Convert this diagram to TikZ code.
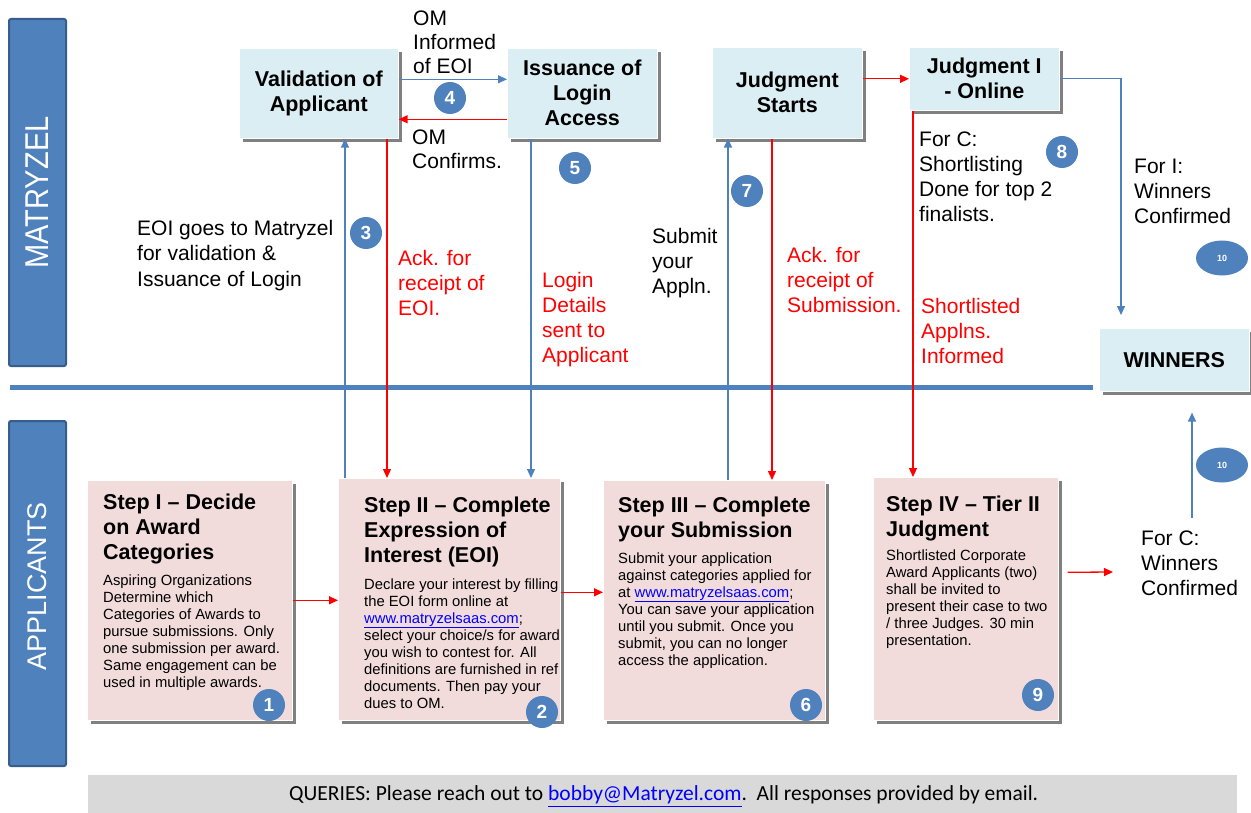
\documentclass[tikz,border=0pt]{standalone}
\usepackage{fontspec}
\setmainfont{Liberation Sans}
\newfontfamily\calibrifont{Carlito}
\usetikzlibrary{arrows.meta,shadows,shapes.geometric,calc}
\definecolor{barblue}{HTML}{4F81BD}
\definecolor{bardark}{HTML}{385D8A}
\definecolor{boxblue}{HTML}{DBEEF4}
\definecolor{boxpink}{HTML}{F2DCDB}
\definecolor{linkblue}{HTML}{0000FF}
\definecolor{arrred}{HTML}{FF0000}
\definecolor{footgray}{HTML}{D9D9D9}
\newcommand\weblink[1]{\textcolor{linkblue}{\underline{#1}}}
\begin{document}
\begin{tikzpicture}[x=1pt,y=-1pt,
  lanebar/.style={draw=bardark, line width=2pt, fill=barblue, rounded corners=2pt, anchor=north west, inner sep=0pt},
  shadowed/.style={drop shadow={shadow xshift=4pt, shadow yshift=-4pt, fill=black!50, opacity=1}},
  topbox/.style={shadowed, draw=white, line width=0.6pt, fill=boxblue, anchor=north west, inner sep=0pt, align=center, font=\bfseries\fontsize{21.5}{25}\selectfont},
  stepbox/.style={shadowed, draw=white, line width=0.6pt, fill=boxpink, anchor=north west, inner sep=0pt},
  steptitle/.style={anchor=north west, inner sep=0pt, align=left, font=\bfseries\fontsize{21.5}{25}\selectfont},
  stepbody/.style={anchor=north west, inner sep=0pt, align=left, font=\fontsize{14.8}{17}\selectfont},
  lbl/.style={anchor=north west, inner sep=0pt, align=left, font=\fontsize{21}{25}\selectfont},
  redlbl/.style={lbl, text=arrred},
  badge/.style={circle, fill=barblue, text=white, inner sep=0pt, minimum size=32pt, font=\bfseries\fontsize{19}{19}\selectfont},
  badgeoval/.style={ellipse, fill=barblue, text=white, inner sep=0pt, minimum width=52pt, minimum height=35pt, font=\bfseries\fontsize{9}{9}\selectfont},
  bluearr/.style={draw=barblue, line width=1.3pt, -{Triangle[length=9pt,width=8pt]}},
  redarr/.style={draw=arrred, line width=1.3pt, -{Triangle[length=9pt,width=8pt]}},
]
\path[use as bounding box, fill=white] (0,0) rectangle (1251,813);

% lane bars
\node[lanebar, minimum width=57pt, minimum height=347pt] (barM) at (8,18) {};
\node[rotate=90, text=white, inner sep=0pt, font=\fontsize{33}{33}\selectfont] (barMtext) at (barM.center) {\scalebox{0.88}[1]{MATRYZEL}};
\node[lanebar, minimum width=57pt, minimum height=345pt] (barA) at (8,420) {};
\node[rotate=90, text=white, inner sep=0pt, font=\fontsize{27}{27}\selectfont] (barAtext) at ($(barA.center)+(0,-7)$) {APPLICANTS};

% separator
\coordinate (hlL) at (10,387);
\coordinate (hlR) at (1093,387);
\draw[barblue, line width=5pt] (hlL) -- (hlR);

% footer
\node[fill=footgray, anchor=north west, minimum width=1149pt, minimum height=38pt, inner sep=0pt] (foot) at (88,775) {};
\node[inner sep=0pt, font=\calibrifont\fontsize{21.5}{21.5}\selectfont] (foottext) at ($(foot.center)+(1,2)$) {QUERIES: Please reach out to \weblink{bobby@Matryzel.com}.\ \ All responses provided by email.};

% top boxes
\node[topbox, minimum width=159pt, minimum height=90pt] (val) at (239,48) {Validation of\\Applicant};
\node[topbox, minimum width=150pt, minimum height=90pt] (iss) at (507,48) {Issuance of\\Login\\Access};
\node[topbox, minimum width=150pt, minimum height=91pt] (js) at (712,47) {Judgment\\Starts};
\node[topbox, minimum width=150pt, minimum height=63pt] (j1) at (909,47) {Judgment I\\- Online};
\node[topbox, minimum width=150pt, minimum height=63pt] (win) at (1099,328) {WINNERS};

% step boxes
\node[stepbox, minimum width=205pt, minimum height=240pt] (s1) at (87,480) {};
\node[stepbox, minimum width=222pt, minimum height=242pt] (s2) at (338,478) {};
\node[stepbox, minimum width=222pt, minimum height=240pt] (s3) at (603,480) {};
\node[stepbox, minimum width=185pt, minimum height=243pt] (s4) at (873,477) {};

\node[steptitle] (t1) at (103,494) {Step I -- Decide\\on Award\\Categories};
\node[stepbody] (b1) at (103,574.2) {Aspiring Organizations\\Determine which\\Categories of Awards to\\pursue submissions. Only\\one submission per award.\\Same engagement can be\\used in multiple awards.};
\node[steptitle] (t2) at (364,497) {Step II -- Complete\\Expression of\\Interest (EOI)};
\node[stepbody] (b2) at (364,578.2) {Declare your interest by filling\\the EOI form online at\\\weblink{www.matryzelsaas.com};\\select your choice/s for award\\you wish to contest for. All\\definitions are furnished in ref\\documents. Then pay your\\dues to OM.};
\node[steptitle] (t3) at (618,497) {Step III -- Complete\\your Submission};
\node[stepbody] (b3) at (618,552.2) {Submit your application\\against categories applied for\\at \weblink{www.matryzelsaas.com};\\You can save your application\\until you submit. Once you\\submit, you can no longer\\access the application.};
\node[steptitle] (t4) at (886,496) {Step IV -- Tier II\\Judgment};
\node[stepbody] (b4) at (886,549.2) {Shortlisted Corporate\\Award Applicants (two)\\shall be invited to\\present their case to two\\/ three Judges. 30 min\\presentation.};

% labels
\node[lbl, font=\fontsize{21}{24}\selectfont] (lom1) at (413,11) {OM\\Informed\\of EOI};
\node[lbl, font=\fontsize{21}{24}\selectfont] (lom2) at (412,130) {OM\\Confirms.};
\node[lbl, font=\fontsize{21}{25.5}\selectfont] (leoi) at (137,220) {EOI goes to Matryzel\\for validation \&\\Issuance of Login};
\node[redlbl] (lack1) at (398,250) {Ack. for\\receipt of\\EOI.};
\node[redlbl] (llogin) at (542,272) {Login\\Details\\sent to\\Applicant};
\node[lbl] (lsub) at (652,228) {Submit\\your\\Appln.};
\node[redlbl] (lack2) at (787,247) {Ack. for\\receipt of\\Submission.};
\node[lbl] (lforc1) at (919,132) {For C:\\Shortlisting\\Done for top 2\\finalists.};
\node[redlbl] (lshort) at (921,298) {Shortlisted\\Applns.\\Informed};
\node[lbl] (lfori) at (1134,159) {For I:\\Winners\\Confirmed};
\node[lbl] (lforc2) at (1141,531) {For C:\\Winners\\Confirmed};

% column coordinates
\coordinate (x345) at (345,0);
\coordinate (x387) at (387,0);
\coordinate (x531) at (531,0);
\coordinate (x728) at (728,0);
\coordinate (x772) at (772,0);
\coordinate (x913) at (913,0);

% connectors
\draw[bluearr] ([yshift=14pt]val.east) -- ([yshift=14pt]val.east -| iss.west);
\draw[redarr] ([yshift=-26pt]iss.west) -- ([yshift=-26pt]iss.west -| val.east);
\draw[bluearr] (x345 |- s2.north) -- (x345 |- val.south);
\draw[redarr] (x387 |- val.south) -- (x387 |- s2.north);
\draw[bluearr] (x531 |- iss.south) -- (x531 |- s2.north);
\draw[bluearr] (x728 |- s3.north) -- (x728 |- js.south);
\draw[redarr] (x772 |- js.south) -- (x772 |- s3.north);
\draw[redarr] (js.east |- j1.west) -- (j1.west);
\draw[redarr] (x913 |- j1.south) -- (x913 |- s4.north);
\coordinate (wintop) at ($(win.north west)+(22,-13)$);
\draw[bluearr] (j1.east) -| (wintop);
\coordinate (forc2top) at ($(lforc2.north west)+(51,-13)$);
\draw[bluearr, shorten >=21pt] (forc2top) -- (forc2top |- win.south);
\draw[redarr] (s1.east) -- (s1.east -| s2.west);
\draw[redarr] ([yshift=7pt]s2.east) -- ([yshift=7pt]s2.east -| s3.west);
\coordinate (s4out) at ($(s4.east)+(9,-26.5)$);
\coordinate (forcin) at ($(lforc2.north west)+(-28,41)$);
\draw[redarr] (s4out) -- (forcin);

% badges
\node[badge] (n1) at (269,705) {1};
\node[badge] (n2) at (542,712) {2};
\node[badge] (n3) at (366,233) {3};
\node[badge] (n4) at (450,98) {4};
\node[badge] (n5) at (575,168) {5};
\node[badge] (n6) at (806,705) {6};
\node[badge] (n7) at (747,191) {7};
\node[badge] (n8) at (1062,152) {8};
\node[badge] (n9) at (1038,695) {9};
\node[badgeoval] (o10a) at (1222,258) {10};
\node[badgeoval] (o10b) at (1222,465) {10};
\end{tikzpicture}
\end{document}
